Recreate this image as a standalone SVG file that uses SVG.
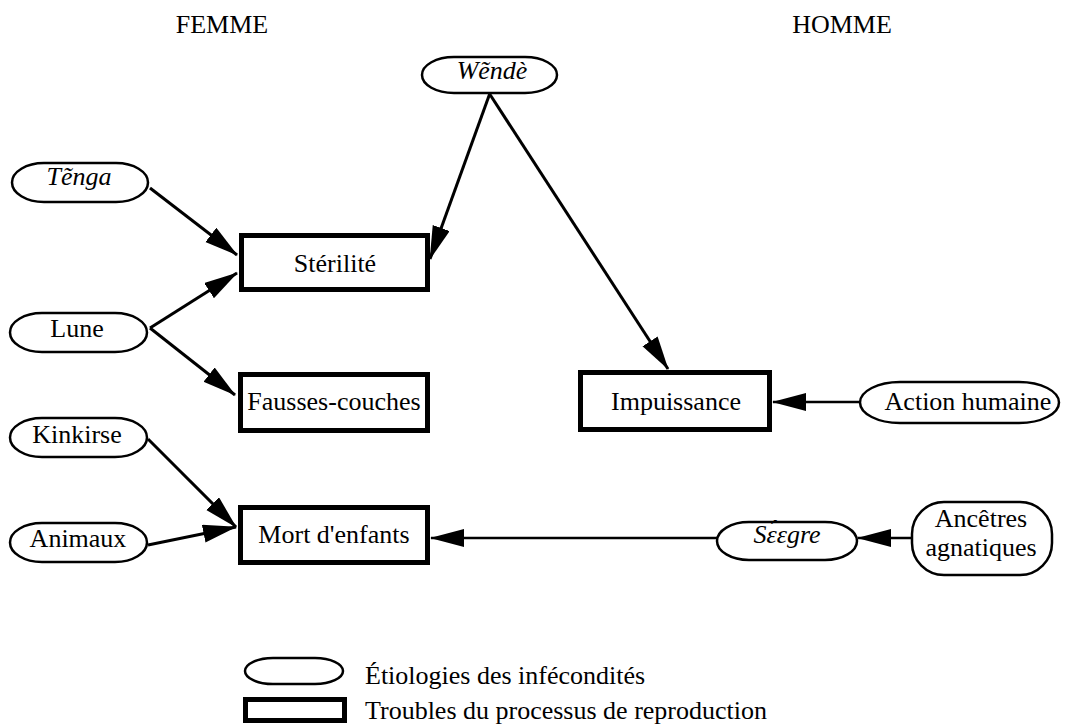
<svg xmlns="http://www.w3.org/2000/svg" width="1068" height="725" viewBox="0 0 1068 725">
<defs>
<style>
text{font-family:"Liberation Serif","Times New Roman",serif;font-size:26px;fill:#000;text-anchor:middle}
.it{font-style:italic}
.lt{text-anchor:start}
.ov{fill:#fff;stroke:#000;stroke-width:2.5}
.bx{fill:#fff;stroke:#000;stroke-width:5}
.cn{fill:none;stroke:#000;stroke-width:3;marker-end:url(#ah)}
.hz{stroke-width:2.5}
</style>
<marker id="ah" markerUnits="userSpaceOnUse" markerWidth="36" markerHeight="20" refX="33" refY="9" orient="auto">
<path d="M0,0 L34,9 L0,18 z" fill="#000"/>
</marker>
</defs>
<rect width="1068" height="725" fill="#fff"/>
<text x="222" y="33">FEMME</text>
<text x="842" y="33">HOMME</text>
<g id="connectors">
<line class="cn" x1="490" y1="93" x2="430" y2="259"/>
<line class="cn" x1="489" y1="93" x2="668" y2="369"/>
<line class="cn" x1="150" y1="188" x2="237" y2="255"/>
<line class="cn" x1="150" y1="328" x2="237" y2="273"/>
<line class="cn" x1="150" y1="328" x2="235" y2="395"/>
<line class="cn" x1="148" y1="439" x2="236" y2="527"/>
<line class="cn" x1="148" y1="545" x2="236" y2="527"/>
<line class="cn hz" x1="860" y1="402" x2="773" y2="402"/>
<line class="cn hz" x1="717" y1="538" x2="431" y2="538"/>
<line class="cn hz" x1="912" y1="538" x2="858" y2="538"/>
</g>
<g id="wende"><rect class="ov" x="422" y="57" width="135" height="36" rx="32" ry="18"/><text class="it" x="492" y="79">Wẽndè</text></g>
<g id="tenga"><rect class="ov" x="12" y="163" width="136" height="39" rx="32" ry="19.5"/><text class="it" x="79" y="185">Tẽnga</text></g>
<g id="lune"><rect class="ov" x="10" y="313" width="137" height="39" rx="32" ry="19.5"/><text x="77" y="337">Lune</text></g>
<g id="kinkirse"><rect class="ov" x="10" y="418" width="137" height="39" rx="32" ry="19.5"/><text x="77" y="443">Kinkirse</text></g>
<g id="animaux"><rect class="ov" x="10" y="523" width="137" height="39" rx="32" ry="19.5"/><text x="78" y="547">Animaux</text></g>
<g id="sterilite"><rect class="bx" x="241.5" y="235.5" width="186" height="54"/><text x="335" y="272">Stérilité</text></g>
<g id="fausses-couches"><rect class="bx" x="240.5" y="374.5" width="187" height="56"/><text x="334" y="410">Fausses-couches</text></g>
<g id="mort-enfants"><rect class="bx" x="240.5" y="507.5" width="187" height="55"/><text x="334" y="543">Mort d'enfants</text></g>
<g id="impuissance"><rect class="bx" x="580.5" y="372.5" width="189" height="57"/><text x="676" y="410">Impuissance</text></g>
<g id="action-humaine"><rect class="ov" x="860" y="382" width="199" height="41" rx="40" ry="20.5"/><text x="968" y="410">Action humaine</text></g>
<g id="seegre"><rect class="ov" x="717" y="522" width="140" height="38" rx="32" ry="19"/><text class="it" x="787" y="543">Sɛ́ɛgre</text></g>
<g id="ancetres"><rect class="ov" x="912" y="502" width="140" height="73" rx="32" ry="32"/><text x="981" y="527">Ancêtres</text><text x="981" y="556">agnatiques</text></g>
<g id="legend">
<rect class="ov" x="245" y="658" width="98" height="26" rx="28" ry="13"/>
<text class="lt" x="365" y="684">Étiologies des infécondités</text>
<rect class="bx" x="245.5" y="699.5" width="99" height="21"/>
<text class="lt" x="365" y="719">Troubles du processus de reproduction</text>
</g>
</svg>
